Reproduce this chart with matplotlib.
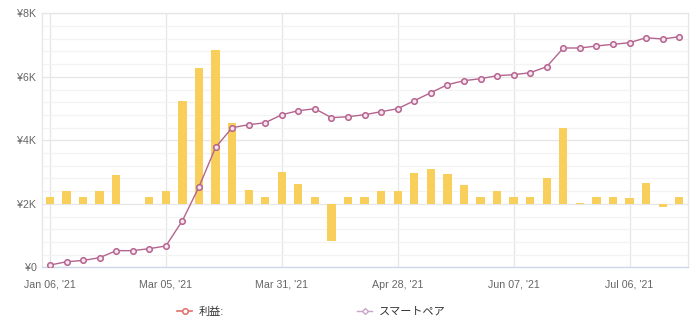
import matplotlib
matplotlib.use("Agg")
import matplotlib.pyplot as plt
from matplotlib.lines import Line2D
from matplotlib.ticker import MultipleLocator, FuncFormatter
import numpy as np

plt.rcParams['font.family'] = ['Liberation Sans', 'Noto Sans CJK JP', 'DejaVu Sans']

# weekly profit (bars, yen) and cumulative balance (line, yen)
profit = [55, 102, 55, 102, 223, -5, 55, 102, 811, 1071,
          1213, 638, 105, 55, 254, 158, 55, -291, 55, 55,
          102, 102, 244, 276, 236, 150, 55, 102, 55, 55,
          205, 599, 8, 55, 55, 44, 165, -24, 55]
balance = [70, 175, 215, 303, 524, 524, 587, 671, 1468, 2535,
           3775, 4397, 4491, 4554, 4806, 4932, 4995, 4712, 4743, 4806,
           4901, 4995, 5247, 5499, 5751, 5877, 5940, 6035, 6066, 6129,
           6318, 6907, 6907, 6970, 7023, 7074, 7231, 7190, 7263]
tick_idx = [0, 7, 14, 21, 28, 35]
tick_labels = ["Jan 06, '21", "Mar 05, '21", "Mar 31, '21",
               "Apr 28, '21", "Jun 07, '21", "Jul 06, '21"]
series_names = ["利益:", "スマートペア"]

x = np.arange(len(balance))

fig = plt.figure(figsize=(6.95, 3.29), dpi=100)
W, H = 695, 329
ax = fig.add_axes([42 / W, 1 - 267.3 / H, (688 - 42) / W, (267.3 - 13.3) / H])

# base axes: grid and labels
ax.set_xlim(-0.48, 38.53)
ax.set_ylim(0, 8000)
ax.yaxis.set_major_locator(MultipleLocator(2000))
ax.yaxis.set_minor_locator(MultipleLocator(400))
ax.yaxis.set_major_formatter(FuncFormatter(lambda v, p: "¥0" if v == 0 else f"¥{int(v/1000)}K"))
ax.set_xticks(tick_idx)
ax.set_xticklabels(tick_labels)
ax.grid(axis='y', which='major', color='#e6e6e6', lw=0.9)
ax.grid(axis='y', which='minor', color='#f3f3f3', lw=0.9)
ax.grid(axis='x', which='major', color='#e6e6e6', lw=0.9)
ax.tick_params(axis='both', which='both', length=0, labelsize=7.7, colors='#666666')
ax.tick_params(axis='x', pad=9)
ax.tick_params(axis='y', pad=4)
for side in ['top', 'right', 'left']:
    ax.spines[side].set_color('#e6e6e6')
    ax.spines[side].set_linewidth(0.9)
ax.spines['bottom'].set_color('#ccd6eb')
ax.spines['bottom'].set_linewidth(0.9)

# bars on their own scale
axb = ax.twinx()
axb.set_ylim(-500, 1500)
axb.bar(x, profit, width=0.5, color='#f9cf5b', zorder=2)
axb.axis('off')

# cumulative line on top
axl = ax.twinx()
axl.set_ylim(0, 8000)
axl.plot(x, balance, color='#b4648f', lw=1.0, marker='o', ms=4,
         mfc='#f7e4ee', mec='#b4648f', mew=1.1, zorder=3)
axl.axis('off')

handles = [
    Line2D([], [], color='#e2706a', lw=1.2, marker='o', ms=4, mfc='white', mec='#e2706a', mew=1.1),
    Line2D([], [], color='#c9a4cb', lw=1.0, marker='D', ms=3, mfc='white', mec='#c9a4cb', mew=1.0),
]
fig.legend(handles, series_names, loc='center', bbox_to_anchor=(311.5 / W, 1 - 311.7 / H),
           ncol=2, frameon=False, fontsize=8, handlelength=1.35, handletextpad=0.6,
           columnspacing=12, labelcolor='#333333')

fig.savefig("out.png", dpi=100)
